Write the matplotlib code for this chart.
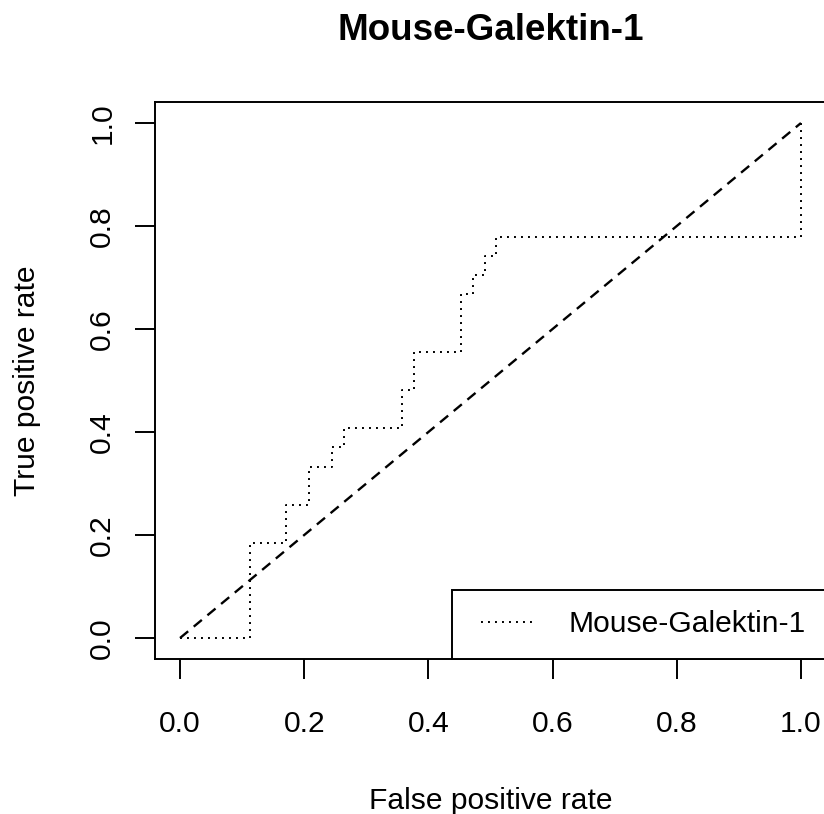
import matplotlib
matplotlib.use("Agg")
import matplotlib.pyplot as plt

# ---- data ----
fpr = [0.0, 0.113, 0.170, 0.2075, 0.245, 0.264, 0.358, 0.377, 0.453, 0.472, 0.491, 0.509, 1.0]
tpr = [0.0, 0.185, 0.259, 0.333, 0.370, 0.407, 0.481, 0.556, 0.667, 0.704, 0.741, 0.778, 1.0]
diag_x = [0.0, 1.0]
diag_y = [0.0, 1.0]
ticks = [0.0, 0.2, 0.4, 0.6, 0.8, 1.0]
tick_labels = ["0.0", "0.2", "0.4", "0.6", "0.8", "1.0"]
series_name = "Mouse-Galektin-1"
title = "Mouse-Galektin-1"
xlabel = "False positive rate"
ylabel = "True positive rate"

plt.rcParams['font.family'] = ['Liberation Sans', 'DejaVu Sans']
plt.rcParams['lines.scale_dashes'] = False

W, H = 824, 814
fig = plt.figure(figsize=(W / 100, H / 100), dpi=100)
L, R, B, T = 155.2, 825.8, 658.6, 102.4  # pixel box of the plot region
ax = fig.add_axes([L / W, (H - B) / H, (R - L) / W, (B - T) / H])

FS = 21.6
ax.plot(fpr, tpr, drawstyle='steps-post', color='black', linewidth=1.4,
        linestyle=(0, (1.4, 3.64)), label=series_name)
ax.plot(diag_x, diag_y, color='black', linewidth=1.7, linestyle=(0, (7.6, 5.2)))

ax.set_xlim(-0.04, 1.04)
ax.set_ylim(-0.04, 1.04)
ax.set_xticks(ticks)
ax.set_xticklabels(tick_labels)
ax.set_yticks(ticks)
ax.set_yticklabels(tick_labels, rotation=90, va='center')

for s in ax.spines.values():
    s.set_linewidth(1.4)
ax.tick_params(axis='both', direction='out', length=14.4, width=1.4, labelsize=FS)
ax.tick_params(axis='x', pad=22.6)
ax.tick_params(axis='y', pad=13.6)

ax.set_xlabel(xlabel, fontsize=FS)
ax.set_ylabel(ylabel, fontsize=FS)
ax.xaxis.set_label_coords(0.5, (B - 787) / (B - T))
ax.yaxis.set_label_coords((41.5 - L) / (R - L), 0.5)

ax.set_title(title, fontsize=26.5, fontweight='bold', y=(B - 40) / (B - T), pad=0)

leg = ax.legend(loc='lower right', bbox_to_anchor=(1.0, 0.0), borderaxespad=0,
                fancybox=False, framealpha=1, edgecolor='black', fontsize=FS,
                numpoints=2, borderpad=0.68, handlelength=2.43, handletextpad=0.77)
leg.get_frame().set_linewidth(1.4)

fig.savefig("out.png", dpi=100)
